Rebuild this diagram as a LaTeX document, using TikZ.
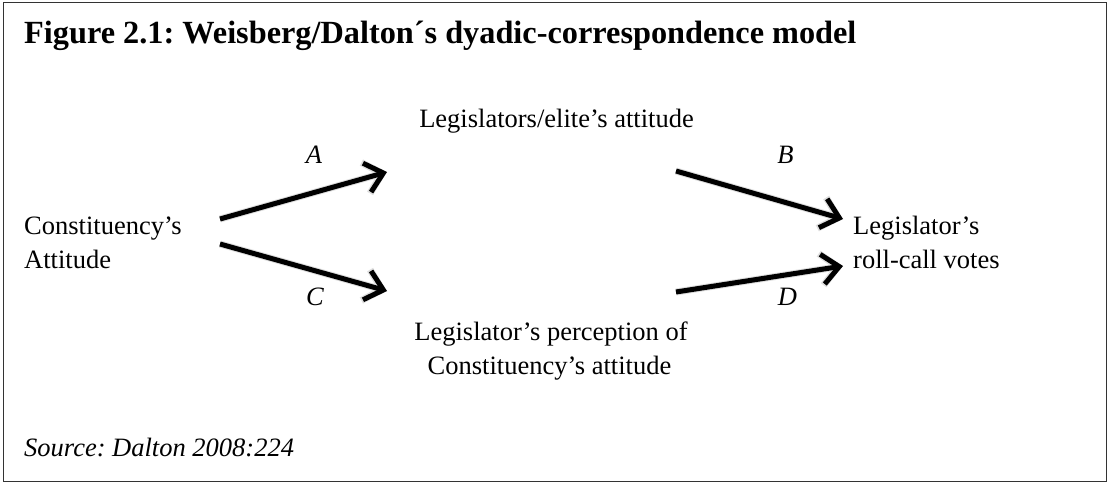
\documentclass[tikz,border=0pt]{standalone}
\usepackage{fontspec}
\setmainfont{Liberation Serif}
\usetikzlibrary{arrows.meta}
\frenchspacing
\begin{document}
\begin{tikzpicture}[x=1pt,y=-1pt,
  txt/.style={inner sep=0pt, font=\fontsize{26.5}{34}\selectfont},
  lbl/.style={inner sep=0pt, font=\fontsize{26.5}{34}\selectfont\itshape},
  arr/.style={line width=5pt, -{Straight Barb[length=17pt,width=30pt]}},
  shad/.style={line width=7pt, draw=black!13, -{Straight Barb[length=17pt,width=32pt]}}]
\useasboundingbox (0,0) rectangle (1108,483);
\draw[line width=1.4pt, draw=black!80] (3.5,2.5) rectangle (1106.5,481.5);

\node[anchor=base west, inner sep=0pt, font=\fontsize{32.3}{38}\selectfont\bfseries] (title) at (24,43) {Figure 2.1: Weisberg/Dalton´s dyadic-correspondence model};

\node[txt, anchor=base] (elite) at (556.5,127) {Legislators/elite’s attitude};
\node[txt, anchor=base west] (cons1) at (24,234) {Constituency’s};
\node[txt, anchor=base west] (cons2) at (24,268) {Attitude};
\node[txt, anchor=base west] (vote1) at (853,234) {Legislator’s};
\node[txt, anchor=base west] (vote2) at (853,268) {roll-call votes};
\node[txt, anchor=base] (perc1) at (551,340) {Legislator’s perception of};
\node[txt, anchor=base] (perc2) at (549.5,374) {Constituency’s attitude};

\node[lbl, anchor=base] (lA) at (314,163) {A};
\node[lbl, anchor=base] (lB) at (785.5,163) {B};
\node[lbl, anchor=base] (lC) at (315,305) {C};
\node[lbl, anchor=base] (lD) at (787.5,305) {D};

\node[lbl, anchor=base west] (src) at (24,456) {Source: Dalton 2008:224};

\coordinate (a1) at (220,219); \coordinate (a2) at (387,172);
\coordinate (c1) at (220,244); \coordinate (c2) at (387,291);
\coordinate (b1) at (676,171); \coordinate (b2) at (843,219);
\coordinate (d1) at (676,292); \coordinate (d2) at (843,266);

\begin{scope}[shift={(1.5,2.5)}]
\draw[shad] (a1) -- (a2);
\draw[shad] (c1) -- (c2);
\draw[shad] (b1) -- (b2);
\draw[shad] (d1) -- (d2);
\end{scope}
\draw[arr] (a1) -- (a2);
\draw[arr] (c1) -- (c2);
\draw[arr] (b1) -- (b2);
\draw[arr] (d1) -- (d2);
\end{tikzpicture}
\end{document}
